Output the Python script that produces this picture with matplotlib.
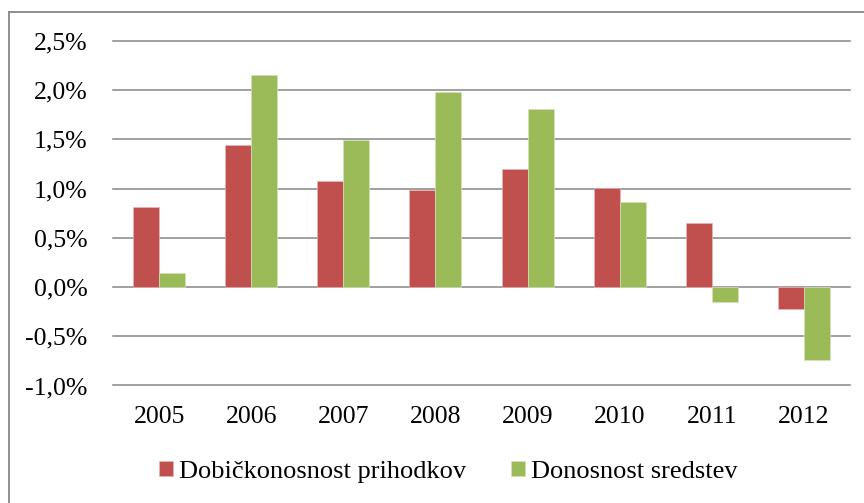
import numpy as np
import matplotlib.pyplot as plt
from matplotlib.lines import Line2D
from matplotlib.ticker import FuncFormatter

years = ['2005', '2006', '2007', '2008', '2009', '2010', '2011', '2012']
# values in percent
dobickonosnost = [0.81, 1.44, 1.08, 0.99, 1.20, 1.01, 0.65, -0.22]
donosnost = [0.14, 2.15, 1.49, 1.98, 1.81, 0.86, -0.15, -0.74]

red = '#C0504D'
green = '#9BBB59'
grid_col = '#868686'

plt.rcParams['font.family'] = ['Liberation Serif', 'DejaVu Serif']

fig = plt.figure(figsize=(8.64, 5.03), dpi=100)
ax = fig.add_axes([0.1308, 0.2336, 0.9838 - 0.1308, 0.9185 - 0.2336])

x = np.arange(len(years))
w = 0.282
ax.bar(x - w / 2, dobickonosnost, w, color=red, edgecolor='#e8b5b4', linewidth=0.5,
       label='Dobičkonosnost prihodkov', zorder=3)
ax.bar(x + w / 2, donosnost, w, color=green, edgecolor='#d4e2b8', linewidth=0.5,
       label='Donosnost sredstev', zorder=3)

ax.set_xlim(-0.5, len(years) - 0.5)
ax.set_ylim(-1.0, 2.5)
ax.set_yticks(np.arange(-1.0, 2.51, 0.5))
ax.yaxis.set_major_formatter(FuncFormatter(lambda v, p: f'{v:.1f}%'.replace('.', ',')))
ax.set_xticks(x)
ax.set_xticklabels(years)

for yv in np.arange(-1.0, 2.51, 0.5):
    ax.axhline(yv, color=grid_col, linewidth=1.1, zorder=1, clip_on=False)

for s in ax.spines.values():
    s.set_visible(False)
ax.tick_params(axis='both', length=0, labelsize=18.5, colors='black')
ax.tick_params(axis='y', pad=18.5)
ax.tick_params(axis='x', pad=15)

# chart area border (left and top edges)
fig.add_artist(Line2D([8.5 / 864, 8.5 / 864], [0, 1 - 12 / 503], color=grid_col,
                      linewidth=1.3, transform=fig.transFigure))
fig.add_artist(Line2D([8.5 / 864, 1], [1 - 12 / 503, 1 - 12 / 503], color=grid_col,
                      linewidth=1.3, transform=fig.transFigure))

fig.legend(loc='center', bbox_to_anchor=(448 / 864, 1 - 472 / 503), ncol=2,
           frameon=False, fontsize=19, handlelength=0.53, handleheight=0.53,
           handletextpad=0.23, columnspacing=1.7)

fig.savefig('out.png', dpi=100)
